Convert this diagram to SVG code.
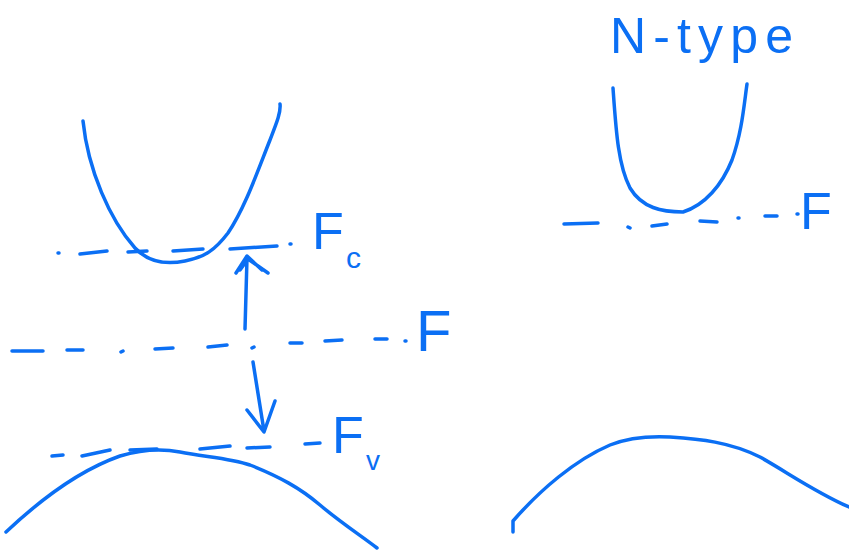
<svg xmlns="http://www.w3.org/2000/svg" width="849" height="554" viewBox="0 0 849 554">
<style>
.ink{fill:none;stroke:#0b6ff4;stroke-width:3.5;stroke-linecap:round;stroke-linejoin:round}
.lbl{fill:#0b6ff4;font-family:"Liberation Sans","DejaVu Sans",sans-serif}
</style>
<rect width="849" height="554" fill="#ffffff"/>
<g id="conduction-band-left">
<path class="ink" d="M83,121 C88,170 110,220 135,248 C148,262 165,265 185,261 C205,257 215,250 228,233 C245,208 258,170 270,140 C277,122 281,112 280,104"/>
</g>
<g id="fermi-c-line">
<path class="ink" d="M58,253 L59,253 M80,254 L107,251 M128,252 L147,251 M173,251 L203,249 M230,249 L277,246 M290,244 L291,244"/>
<text class="lbl" x="312" y="249" font-size="52">F</text>
<text class="lbl" x="346" y="268" font-size="30">c</text>
</g>
<g id="fermi-line">
<path class="ink" d="M12,351 L43,351 M67,350 L83,350 M121,352 L123,351 M155,349 L173,348 M208,347 L227,345 M252,348 L254,347 M290,343 L302,343 M325,341 L342,340 M375,339 L387,339 M405,341 L406,341"/>
<text class="lbl" x="416" y="351" font-size="58">F</text>
</g>
<g id="fermi-v-line">
<path class="ink" d="M52,456 L63,455 M82,456 L110,450 M130,450 L157,449 M200,449 L230,446 M247,448 L270,447 M305,444 L320,443"/>
<text class="lbl" x="332" y="453" font-size="52">F</text>
<text class="lbl" x="366" y="470" font-size="28">v</text>
</g>
<g id="valence-band-left">
<path class="ink" d="M6,532 C40,500 80,470 120,456 C140,450 160,448 180,452 C205,457 230,458 250,465 C280,477 300,488 320,505 C340,522 360,535 377,548"/>
</g>
<g id="connectors">
<path class="ink" d="M245,329 L247,258 M236,273 L247,256 L262,270 M240,270 L248,259 L268,273"/>
<path class="ink" d="M253,362 L264,431 M247,410 L264,432 L275,401"/>
</g>
<g id="n-type-label">
<text class="lbl" x="610" y="53" font-size="50" textLength="183" lengthAdjust="spacing">N-type</text>
</g>
<g id="conduction-band-right">
<path class="ink" d="M613,88 C616,130 618,165 630,188 C642,208 662,212 683,212 C705,205 722,185 732,160 C742,132 744,105 747,84"/>
</g>
<g id="fermi-right-line">
<path class="ink" d="M564,224 L598,223 M628,227 L630,228 M652,226 L667,224 M700,221 L717,222 M738,218 L739,218 M765,216 L777,216 M797,214 L798,214"/>
<text class="lbl" x="800" y="229" font-size="52">F</text>
</g>
<g id="valence-band-right">
<path class="ink" d="M513,532 L513,521 C540,490 575,460 610,445 C630,437 650,436 670,437 C700,439 730,442 760,457 C790,474 815,492 849,507"/>
</g>
</svg>
